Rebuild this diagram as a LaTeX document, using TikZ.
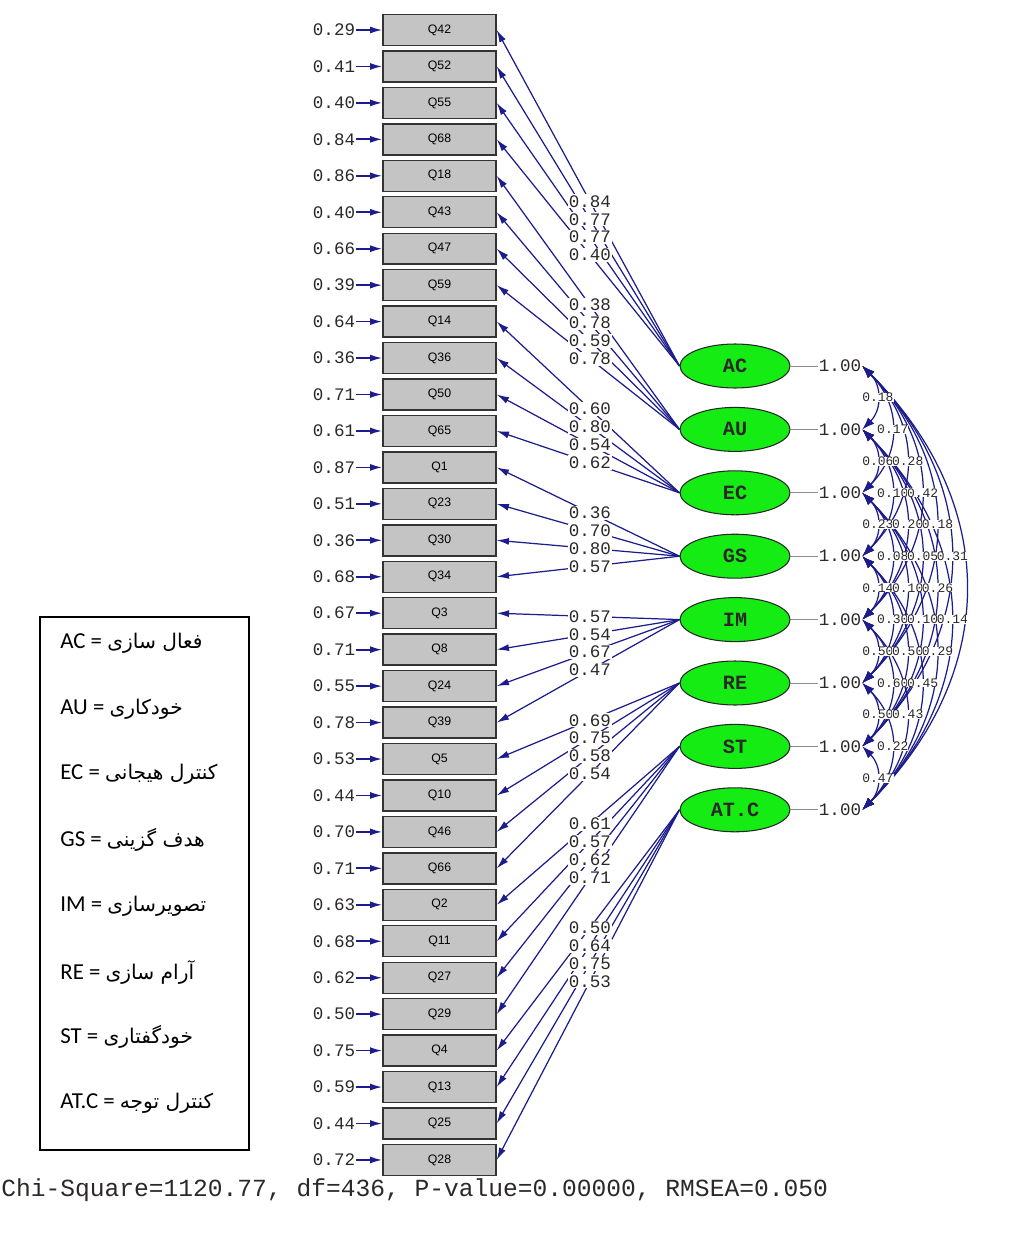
\documentclass[tikz,border=0pt]{standalone}
\usepackage{fontspec}
\usetikzlibrary{arrows.meta,shapes.geometric}
\TeXXeTstate=1
\newfontfamily\mymono{Liberation Mono}
\newfontfamily\mysans{Liberation Sans}
\newfontfamily\legfnt{Carlito}
\newfontfamily\arabicfont[Script=Arabic]{DejaVu Sans}
\newcommand\mynum{\mymono\fontsize{10}{12}\selectfont}
\newcommand\persfont{\arabicfont\fontsize{11.5}{13}\selectfont}
\definecolor{navyb}{RGB}{28,28,140}
\definecolor{boxgray}{RGB}{196,196,196}
\definecolor{latgreen}{RGB}{20,236,20}
\definecolor{txtc}{RGB}{45,40,40}
\begin{document}
\begin{tikzpicture}[x=0.02cm,y=-0.02cm,
  qbox/.style={draw=black!80, fill=boxgray, line width=0.8pt, minimum width=2.26cm, minimum height=0.62cm, inner sep=0pt, font=\mysans\fontsize{7}{8}\selectfont},
  errlab/.style={font=\mynum, text=txtc, inner sep=0.5pt},
  errarr/.style={draw=navyb, line width=1pt, -{Latex[length=7pt,width=4pt]}},
  latent/.style={ellipse, draw=black!85, fill=latgreen, line width=0.6pt, minimum width=2.2cm, minimum height=0.88cm, inner sep=0pt, font=\mymono\bfseries\fontsize{11.5}{13}\selectfont, text=txtc},
  varlab/.style={font=\mynum, text=txtc, inner sep=0.5pt},
  loadln/.style={draw=navyb, line width=0.7pt, -{Latex[length=7pt,width=4pt]}},
  loadlab/.style={font=\mynum, text=txtc, fill=white, inner sep=0.6pt},
  covln/.style={draw=navyb, line width=0.7pt, {Latex[length=7pt,width=5pt]}-{Latex[length=7pt,width=5pt]}},
  covlab/.style={font=\mymono\fontsize{7.4}{9}\selectfont, text=txtc, fill=white, inner sep=0pt},
  legtxt/.style={anchor=west, inner sep=0pt, font=\legfnt\fontsize{13}{15}\selectfont},
  legbox/.style={draw=black, line width=0.8pt}
]
\useasboundingbox (0,0) rectangle (1025,1233);
\fill[white] (0,0) rectangle (1025,1233);

% observed variables with error variances
\foreach \q/\e [count=\i from 0] in {Q42/0.29,Q52/0.41,Q55/0.40,Q68/0.84,Q18/0.86,Q43/0.40,Q47/0.66,Q59/0.39,Q14/0.64,Q36/0.36,Q50/0.71,Q65/0.61,Q1/0.87,Q23/0.51,Q30/0.36,Q34/0.68,Q3/0.67,Q8/0.71,Q24/0.55,Q39/0.78,Q5/0.53,Q10/0.44,Q46/0.70,Q66/0.71,Q2/0.63,Q11/0.68,Q27/0.62,Q29/0.50,Q4/0.75,Q13/0.59,Q25/0.44,Q28/0.72} {
  \node[qbox] (q\i) at (439.5,{30+36.45*\i}) {\q};
  \node[errlab] (e\i) at (334,{30+36.45*\i}) {\e};
  \draw[errarr] (e\i.east) -- (q\i.west);
}

% latent variables
\foreach \f [count=\i from 0] in {AC,AU,EC,GS,IM,RE,ST,AT.C} {
  \node[latent] (f\i) at (735,{366+63.4*\i}) {\f};
  \node[varlab] (v\i) at (840,{366+63.4*\i}) {1.00};
  \draw[black!45, line width=0.5pt] (f\i.east) -- (v\i.west);
}

% loadings: lines first
\foreach \lv [count=\k from 0] in {0.84,0.77,0.77,0.40,0.38,0.78,0.59,0.78,0.60,0.80,0.54,0.62,0.36,0.70,0.80,0.57,0.57,0.54,0.67,0.47,0.69,0.75,0.58,0.54,0.61,0.57,0.62,0.71,0.50,0.64,0.75,0.53} {
  \pgfmathtruncatemacro{\fidx}{floor(\k/4)}
  \draw[loadln] (f\fidx.west) -- coordinate[pos=0.49] (lp\k) (q\k.east);
}
% loadings: labels
\foreach \lv [count=\k from 0] in {0.84,0.77,0.77,0.40,0.38,0.78,0.59,0.78,0.60,0.80,0.54,0.62,0.36,0.70,0.80,0.57,0.57,0.54,0.67,0.47,0.69,0.75,0.58,0.54,0.61,0.57,0.62,0.71,0.50,0.64,0.75,0.53} {
  \node[loadlab] (ll\k) at (lp\k) {\lv};
}

% covariances between latent variables: arcs
\foreach \i/\j in {0/1,1/2,2/3,3/4,4/5,5/6,6/7,0/2,1/3,2/4,3/5,4/6,5/7,0/3,1/4,2/5,3/6,4/7,0/4,1/5,2/6,3/7,0/5,1/6,2/7,0/6,1/7,0/7} {
  \pgfmathsetmacro{\cc}{0.31*63.4*(\j-\i)}
  \draw[covln] (v\i.east) .. controls +(\cc,\cc) and +(\cc,-\cc) .. (v\j.east);
}
% covariance labels
\foreach \i/\j/\val in {0/1/0.18,1/2/0.06,2/3/0.23,3/4/0.14,4/5/0.50,5/6/0.50,6/7/0.47,0/2/0.17,1/3/0.10,2/4/0.08,3/5/0.30,4/6/0.60,5/7/0.22,0/3/0.28,1/4/0.20,2/5/0.10,3/6/0.50,4/7/0.43,0/4/0.42,1/5/0.05,2/6/0.10,3/7/0.45,0/5/0.18,1/6/0.26,2/7/0.29,0/6/0.31,1/7/0.14} {
  \node[covlab] (c\i\j) at ({863+0.235*63.4*(\j-\i)},{366+31.7*(\i+\j)}) {\val};
}

% legend
\node[legbox, minimum width=4.18cm, minimum height=10.66cm, inner sep=0pt] (leg) at (144.5,883.5) {};
\node[legtxt] (l1) at (60,643) {AC = {\persfont\beginR فعال سازی\endR}};
\node[legtxt] (l2) at (60,709) {AU = {\persfont\beginR خودکاری\endR}};
\node[legtxt] (l3) at (60,774) {EC = {\persfont\beginR کنترل هیجانی\endR}};
\node[legtxt] (l4) at (60,840) {GS = {\persfont\beginR هدف گزینی\endR}};
\node[legtxt] (l5) at (60,906) {IM = {\persfont\beginR تصویرسازی\endR}};
\node[legtxt] (l6) at (60,972) {RE = {\persfont\beginR آرام سازی\endR}};
\node[legtxt] (l7) at (60,1037) {ST = {\persfont\beginR خودگفتاری\endR}};
\node[legtxt] (l8) at (60,1103) {AT.C = {\persfont\beginR کنترل توجه\endR}};

% fit statistics
\node[anchor=west, inner sep=0pt, font=\mymono\fontsize{14}{16}\selectfont, text=txtc] (fit) at (1,1190) {Chi-Square=1120.77, df=436, P-value=0.00000, RMSEA=0.050};
\end{tikzpicture}
\end{document}
